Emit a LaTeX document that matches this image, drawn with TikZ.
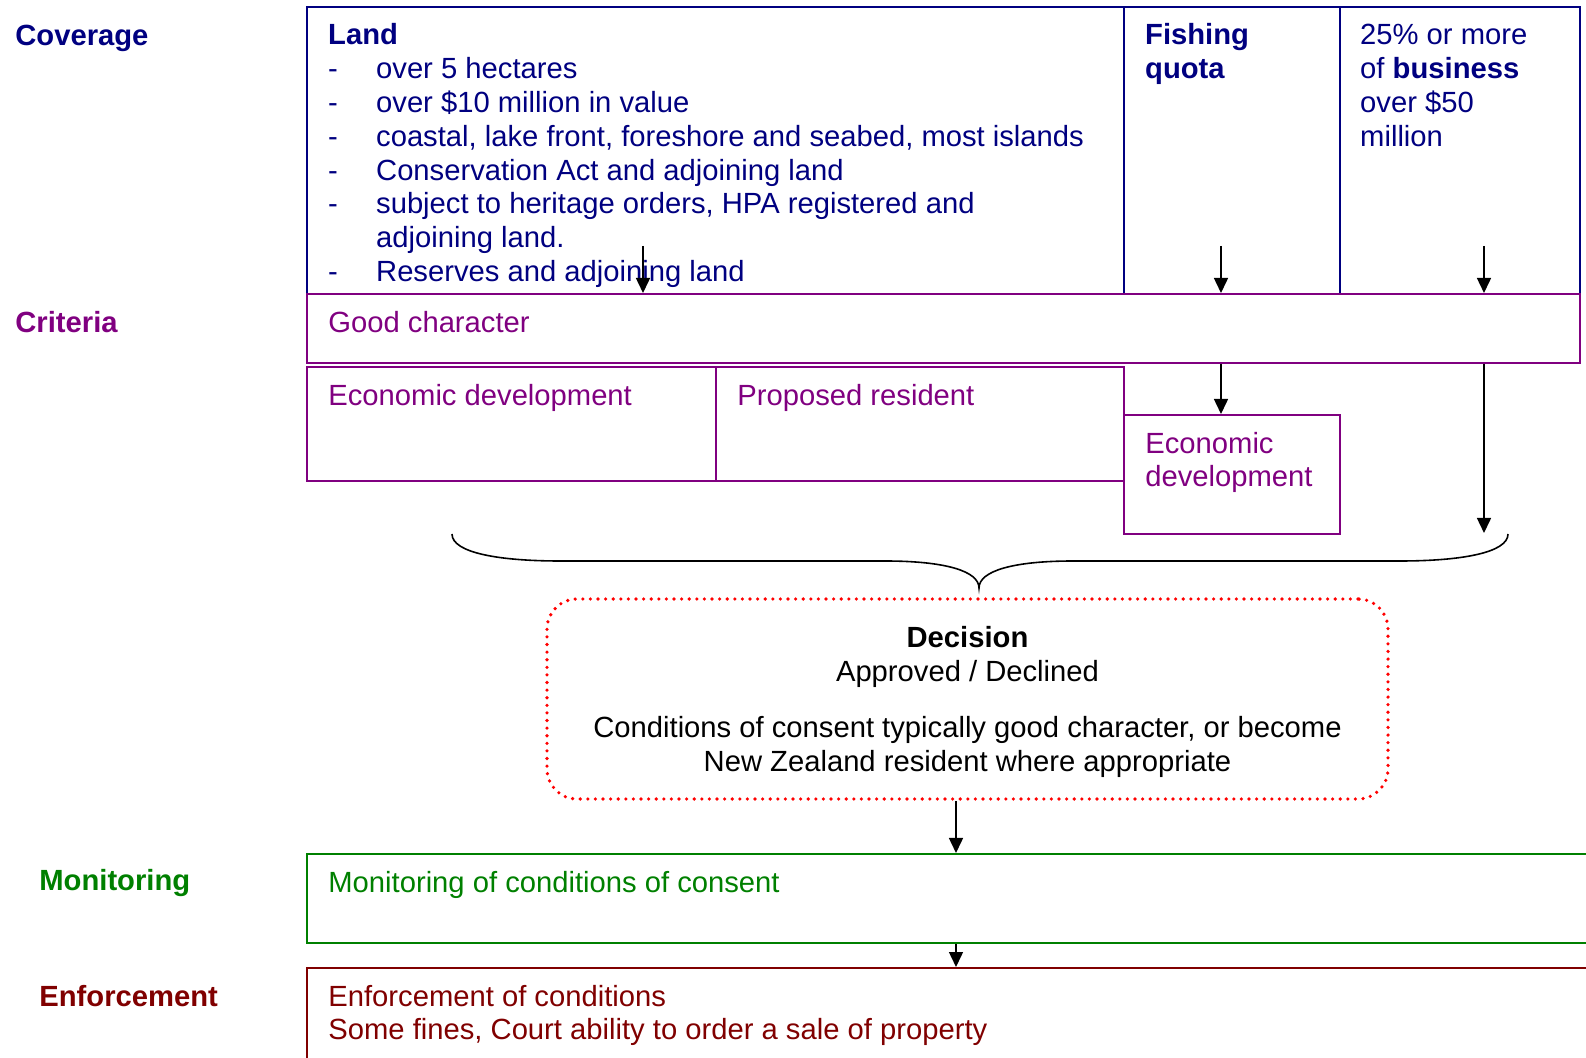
\documentclass[tikz,border=0pt]{standalone}
\usepackage{fontspec}
\setmainfont{Liberation Sans}
\usepackage{tikz}
\usetikzlibrary{arrows.meta,fit}
\definecolor{covblue}{RGB}{0,0,128}
\definecolor{critpurple}{RGB}{128,0,128}
\definecolor{mongreen}{RGB}{0,128,0}
\definecolor{enfred}{RGB}{128,0,0}
\newcommand{\fs}{\fontsize{14.6pt}{16.9pt}\selectfont}
\newcommand{\itm}{\makebox[24pt][l]{-}}
\tikzset{
    box/.style={draw,line width=1pt,inner sep=0pt},
    txt/.style={anchor=north west,inner sep=0pt,align=left,font=\fs},
    heading/.style={anchor=base west,inner sep=0pt,font=\fs\bfseries},
    decbox/.style={draw=red,line width=1.8pt,dash pattern=on 0pt off 3.8pt,line cap=round,
        rounded corners=15pt,inner sep=0pt},
    dectxt/.style={inner sep=0pt,align=center,font=\fs,text=black},
    edge/.style={-{Triangle[length=7.5pt,width=7pt]},line width=0.75pt}
}

\begin{document}
\begin{tikzpicture}[x=0.5pt,y=-0.5pt]
\clip (0,0) rectangle (1586,1058);
% row headings
\node[heading,covblue] (hcov) at (15,46) {Coverage};
\node[heading,critpurple] (hcrit) at (15,333) {Criteria};
\node[heading,mongreen] (hmon) at (39,891) {Monitoring};
\node[heading,enfred] (henf) at (39,1006) {Enforcement};
% coverage
\node[box,covblue,line width=1.2pt,fit={(307,7) (1124,294)}] (land) {};
\node[box,covblue,line width=1.2pt,fit={(1124,7) (1340,294)}] (fish) {};
\node[box,covblue,line width=1.2pt,fit={(1340,7) (1580,294)}] (biz) {};
\node[txt,covblue] (landtxt) at ([shift={(22,15)}]land.north west)
    {\strut\textbf{Land}\\
     \itm over 5 hectares\\
     \itm over \$10 million in value\\
     \itm coastal, lake front, foreshore and seabed, most islands\\
     \itm Conservation Act and adjoining land\\
     \itm subject to heritage orders, HPA registered and\\
     \hspace*{24pt}adjoining land.\\
     \itm Reserves and adjoining land};
\node[txt,covblue] (fishtxt) at ([shift={(22,15)}]fish.north west)
    {\strut\textbf{Fishing}\\ \textbf{quota}};
\node[txt,covblue] (biztxt) at ([shift={(21,15)}]biz.north west)
    {\strut 25\% or more\\ of \textbf{business}\\ over \$50\\ million};
% criteria
\node[box,critpurple,fit={(307,294) (1580,363)}] (good) {};
\node[box,critpurple,fit={(307,367) (716,481)}] (ecoland) {};
\node[box,critpurple,fit={(716,367) (1124,481)}] (resident) {};
\node[box,critpurple,fit={(1124,415) (1340,534)}] (ecofish) {};
\node[txt,critpurple] (goodtxt) at ([shift={(22,15)}]good.north west) {\strut Good character};
\node[txt,critpurple] (ecolandtxt) at ([shift={(22,15)}]ecoland.north west) {\strut Economic development};
\node[txt,critpurple] (residenttxt) at ([shift={(22,15)}]resident.north west) {\strut Proposed resident};
\node[txt,critpurple] (ecofishtxt) at ([shift={(22,15)}]ecofish.north west) {\strut Economic\\ development};
% decision
\draw[line width=0.8pt] (452,534) .. controls (452,553) and (500,561) .. (560,561) -- (885,561)
    .. controls (945,561) and (979,571) .. (979,588) .. controls (979,571) and (1013,561) .. (1073,561)
    -- (1400,561) .. controls (1460,561) and (1508,553) .. (1508,534);
\node[decbox,fit={(547,599) (1388,799)}] (dec) {};
\node[dectxt] (dectxt) at ([shift={(0,3)}]dec.center)
    {\textbf{Decision}\\ Approved / Declined\\[11.5pt]
     Conditions of consent typically good character, or become\\
     New Zealand resident where appropriate};
% monitoring and enforcement
\node[box,mongreen,fit={(307,854) (1600,943)}] (mon) {};
\node[box,enfred,fit={(307,968) (1600,1080)}] (enf) {};
\node[txt,mongreen] (montxt) at ([shift={(22,15)}]mon.north west) {\strut Monitoring of conditions of consent};
\node[txt,enfred] (enftxt) at ([shift={(22,15)}]enf.north west)
    {\strut Enforcement of conditions\\ Some fines, Court ability to order a sale of property};
%arrows
\coordinate (landsrc) at (643,246);
\coordinate (fishsrc) at (1221,246);
\coordinate (bizsrc) at (1484,246);
\coordinate (bizend) at (1484,533);
\coordinate (decout) at (956,0);
\draw[edge] (landsrc) -- (landsrc |- good.north);
\draw[edge] (fishsrc) -- (fishsrc |- good.north);
\draw[edge] (bizsrc) -- (bizsrc |- good.north);
\draw[edge] (good.south -| fishsrc) -- (ecofish.north -| fishsrc);
\draw[edge] (good.south -| bizsrc) -- (bizend);
\draw[edge] (dec.south -| decout) -- (mon.north -| decout);
\draw[edge] (mon.south -| decout) -- (enf.north -| decout);
\end{tikzpicture}
\end{document}
